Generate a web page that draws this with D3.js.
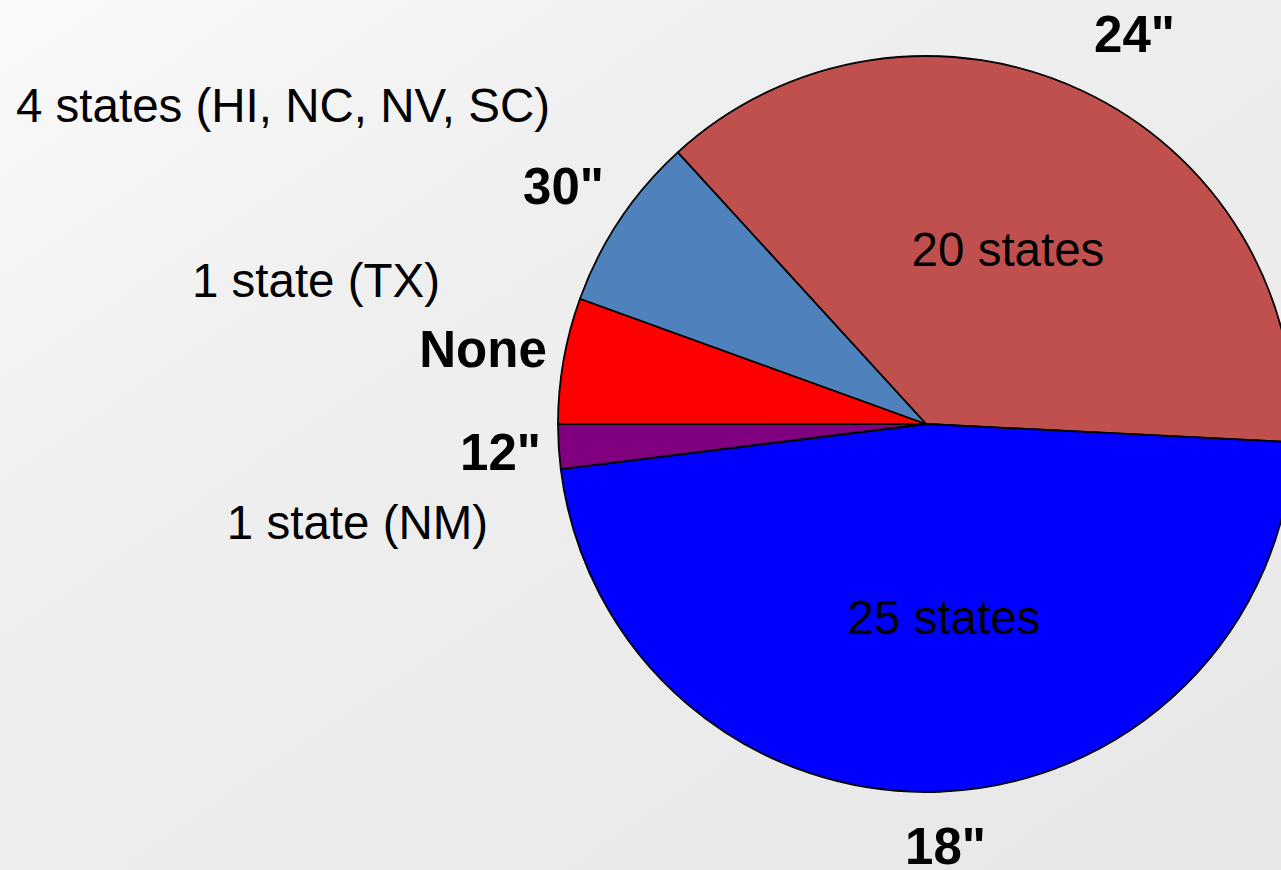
<!DOCTYPE html>
<html>
<head>
<meta charset="utf-8">
<script src="https://cdn.jsdelivr.net/npm/d3@7"></script>
<style>
  html, body { margin: 0; padding: 0; overflow: hidden; }
  svg { display: block; }
  text { font-family: Arial, "Liberation Sans", Helvetica, sans-serif; fill: #000; }
</style>
</head>
<body>
<svg id="chart" width="1281" height="870"></svg>
<script>
// Data (share of pie, percent), clockwise order
const categories = ['24"', '18"', '12"', 'None', '30"'];
const values = [37.57, 47.26, 1.95, 5.53, 7.69];
const colors = ["#C0504D", "#0000FF", "#800080", "#FF0000", "#4F81BD"];
const insideLabels = ["20 states", "25 states", "", "", ""];
const outerNotes = ["", "", "1 state (NM)", "1 state (TX)", "4 states (HI, NC, NV, SC)"];

const W = 1281, H = 870;
const cx = 926, cy = 424, R = 368;
const startDeg = -42.42;

const svg = d3.select("#chart");
const defs = svg.append("defs");
const grad = defs.append("linearGradient").attr("id", "bg")
  .attr("x1", 0).attr("y1", 0).attr("x2", 1).attr("y2", 1);
grad.append("stop").attr("offset", "0").attr("stop-color", "#fafafa");
grad.append("stop").attr("offset", "0.32").attr("stop-color", "#efefef");
grad.append("stop").attr("offset", "0.68").attr("stop-color", "#ebebeb");
grad.append("stop").attr("offset", "1").attr("stop-color", "#e7e7e7");
svg.append("rect").attr("width", W).attr("height", H).attr("fill", "url(#bg)");

const pie = d3.pie().sort(null).value(d => d)
  .startAngle(startDeg * Math.PI / 180)
  .endAngle((startDeg + 360) * Math.PI / 180);
const arcs = pie(values);
const arc = d3.arc().innerRadius(0).outerRadius(R);

const g = svg.append("g").attr("transform", `translate(${cx},${cy})`);
g.selectAll("path").data(arcs).join("path")
  .attr("d", arc)
  .attr("fill", (d, i) => colors[i])
  .attr("stroke", "#000")
  .attr("stroke-width", 1.8)
  .attr("stroke-linejoin", "round");

// inside labels
const insidePos = [[1008, 266], [944, 634]];
insideLabels.forEach((t, i) => {
  if (!t) return;
  svg.append("text").attr("x", insidePos[i][0]).attr("y", insidePos[i][1])
    .attr("text-anchor", "middle").attr("font-size", 47.5).text(t);
});

// category labels (bold)
const catPos = [[1134.5, 52], [945.5, 864], [500.5, 470], [483, 367], [563.5, 204]];
categories.forEach((t, i) => {
  svg.append("text").attr("x", catPos[i][0]).attr("y", catPos[i][1])
    .attr("text-anchor", "middle").attr("font-size", 51).attr("font-weight", "bold").text(t);
});

// notes
const notePos = [null, null, [357.5, 539], [316, 297], [283, 122]];
outerNotes.forEach((t, i) => {
  if (!t) return;
  svg.append("text").attr("x", notePos[i][0]).attr("y", notePos[i][1])
    .attr("text-anchor", "middle").attr("font-size", 47.5).text(t);
});
</script>
</body>
</html>
